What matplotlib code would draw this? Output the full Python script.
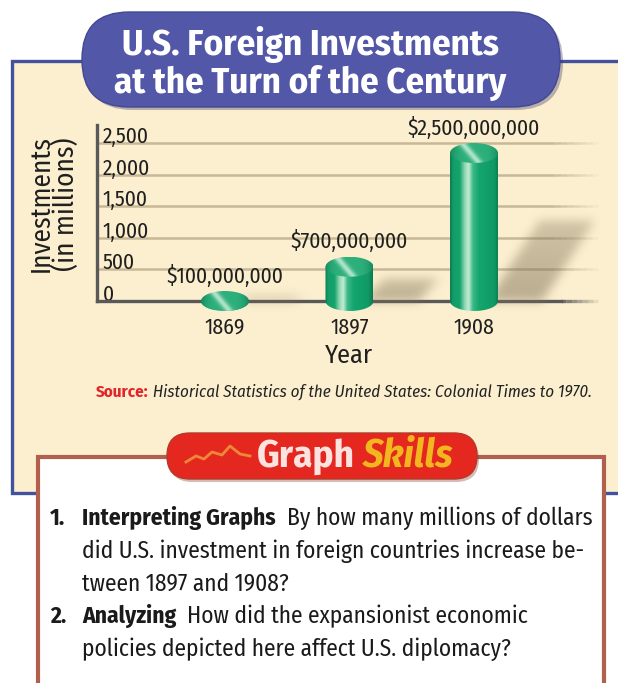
import numpy as np
import matplotlib
matplotlib.use('Agg')
import matplotlib.pyplot as plt
from matplotlib.patches import Rectangle, FancyBboxPatch, Ellipse, Polygon
from matplotlib.path import Path
from matplotlib.colors import to_rgb

# ---------------- data ----------------
years = ['1869', '1897', '1908']
investments = [100, 700, 2500]          # millions of dollars
value_labels = ['$100,000,000', '$700,000,000', '$2,500,000,000']
y_ticks = [0, 500, 1000, 1500, 2000, 2500]
y_tick_labels = ['0', '500', '1,000', '1,500', '2,000', '2,500']

title_lines = ['U.S. Foreign Investments', 'at the Turn of the Century']
y_title = 'Investments\n(in millions)'
x_title = 'Year'
source_label = 'Source:'
source_text = 'Historical Statistics of the United States: Colonial Times to 1970.'
skills_words = ['Graph', 'Skills']
questions = [
    ('1.', 'Interpreting Graphs', 'By how many millions of dollars',
     ['did U.S. investment in foreign countries increase be-',
      'tween 1897 and 1908?']),
    ('2.', 'Analyzing', 'How did the expansionist economic',
     ['policies depicted here affect U.S. diplomacy?']),
]

plt.rcParams['font.family'] = ['Fira Sans Condensed', 'DejaVu Sans']

W, H = 618, 683
fig = plt.figure(figsize=(W / 100, H / 100), dpi=100)

# background axes in pixel units (y down)
bg = fig.add_axes([0, 0, 1, 1])
bg.set_xlim(0, W)
bg.set_ylim(H, 0)
bg.axis('off')

# yellow panel with blue frame
bg.add_patch(Rectangle((12, 61), 640, 432, fc='#fbefcf', ec='#42529c', lw=2.4, zorder=1))

# title banner
bg.add_patch(FancyBboxPatch((85, 15), 478, 95, boxstyle='round,pad=0,rounding_size=47',
                            fc='#3a3560', ec='none', alpha=0.35, zorder=2))
bg.add_patch(FancyBboxPatch((82, 12), 478, 95, boxstyle='round,pad=0,rounding_size=47',
                            fc='#5257a7', ec='#434894', lw=1, zorder=3))
for i, line in enumerate(title_lines):
    bg.text(310, 55 + 38 * i, line, color='white', fontsize=26.5, fontweight='bold',
            ha='center', va='baseline', zorder=4)

# source line
t_src = bg.text(96, 397, source_label, color='#e3262b', fontsize=12.2, fontweight='bold',
                va='baseline', zorder=4)
bg.annotate(' ' + source_text, xy=(1, 0), xycoords=t_src, va='bottom', ha='left',
            fontsize=12.2, fontstyle='italic', color='#222222', zorder=4)

# questions box
bg.add_patch(Rectangle((38, 457), 566, 260, fc='white', ec='#b0604d', lw=3, zorder=3))

# Graph Skills pill
bg.add_patch(FancyBboxPatch((169, 436), 310, 46, boxstyle='round,pad=0,rounding_size=23',
                            fc='#8a3a2a', ec='none', alpha=0.35, zorder=4))
bg.add_patch(FancyBboxPatch((167, 433), 310, 46, boxstyle='round,pad=0,rounding_size=23',
                            fc='#e5281f', ec='#b23a2a', lw=1, zorder=5))
icon_x = [186, 196, 204, 212, 222, 230, 240, 250]
icon_y = [462, 456, 459, 452, 455, 446, 454, 456]
bg.plot(icon_x, icon_y, color='#f0a23a', lw=2, alpha=0.8, zorder=6)
t_g = bg.text(257, 467, skills_words[0], fontsize=28, fontweight='bold', color='#fde3e0',
              va='baseline', zorder=6)
bg.annotate(skills_words[1], xy=(1, 0), xycoords=t_g, xytext=(6, 0), textcoords='offset points',
            va='bottom', ha='left', fontsize=29, fontweight='bold', fontstyle='italic',
            color='#f2b61e', zorder=6)

# questions text
fs_q = 16.9
line = 0
for num, head, rest, more in questions:
    yb = 525 + 32.8 * line
    bg.text(50, yb, num, fontsize=fs_q, fontweight='bold', color='#1a1a1a', va='baseline', zorder=6)
    th = bg.text(82, yb, head, fontsize=fs_q, fontweight='bold', color='#1a1a1a',
                 va='baseline', zorder=6)
    bg.annotate('  ' + rest, xy=(1, 0), xycoords=th, va='bottom', ha='left',
                fontsize=fs_q, color='#1a1a1a', zorder=6)
    line += 1
    for m in more:
        bg.text(82, 525 + 32.8 * line, m, fontsize=fs_q, color='#1a1a1a', va='baseline', zorder=6)
        line += 1

# ---------------- chart axes ----------------
px_per_unit = 158 / 2500.0
px0, px1, py_top, py_bot, py_zero = 97, 600, 120, 315, 301
x_step = 124.5
x_first = 225
ax = fig.add_axes([px0 / W, 1 - py_bot / H, (px1 - px0) / W, (py_bot - py_top) / H])
ax.set_facecolor('none')
xl = ((px0 - x_first) / x_step, (px1 - x_first) / x_step)
yl = (-(py_bot - py_zero) / px_per_unit, (py_zero - py_top) / px_per_unit)
ax.set_xlim(xl)
ax.set_ylim(yl)

xpos = np.arange(len(years))
ink = '#1f1f1f'

# gridlines with a fading right end
fade_start, fade_end = 2.65, 3.0
for yv in y_ticks[1:]:
    ax.plot([xl[0], fade_start], [yv, yv], color='#c8b898', lw=1.8, zorder=1, solid_capstyle='butt')
    seg = np.linspace(fade_start, fade_end, 8)
    for k in range(len(seg) - 1):
        ax.plot(seg[k:k + 2], [yv, yv], color='#c8b898', lw=1.8, zorder=1,
                alpha=1 - (k + 1) / len(seg), solid_capstyle='butt')
# axis at zero fading right
seg = np.linspace(2.7, 3.0, 8)
for k in range(len(seg) - 1):
    ax.plot(seg[k:k + 2], [0, 0], color='#595959', lw=2.4, zorder=2,
            alpha=1 - (k + 1) / len(seg), solid_capstyle='butt')

for s in ['top', 'right']:
    ax.spines[s].set_visible(False)
ax.spines['bottom'].set_position(('data', 0))
ax.spines['bottom'].set_bounds(xl[0], 2.7)
ax.spines['bottom'].set_color('#595959')
ax.spines['bottom'].set_linewidth(2.4)
ax.spines['bottom'].set_zorder(2)
ax.spines['left'].set_bounds(0, 2780)
ax.spines['left'].set_color('#595959')
ax.spines['left'].set_linewidth(2.4)

ax.set_yticks(y_ticks, y_tick_labels)
ax.tick_params(axis='y', length=0, pad=-4, labelsize=15.5, labelcolor=ink)
for lab in ax.get_yticklabels():
    lab.set_ha('left')
    lab.set_va('baseline')
ax.set_xticks(xpos, years)
ax.tick_params(axis='x', length=0, pad=11, labelsize=15.5, labelcolor=ink)
ax.set_xlabel(x_title, fontsize=19, color=ink, labelpad=4)
ax.set_ylabel(y_title, fontsize=19.5, color=ink, linespacing=0.92)
ax.yaxis.set_label_coords(-0.034, 0.57)

# cylinders
bar_w = 48 / x_step
ry = 10 / px_per_unit
rx = bar_w / 2

# soft shadows: polygon masks blurred into one translucent image
gx = np.linspace(xl[0], xl[1], 504)
gy = np.linspace(yl[0], yl[1], 196)
GX, GY = np.meshgrid(gx, gy)
pts = np.column_stack([GX.ravel(), GY.ravel()])
mask = np.zeros(GX.shape)
for xc, val in zip(xpos, investments):
    sh_h = max(val * 0.51, 60)
    sh_dx = sh_h * 2.66e-4
    sh = [(xc + rx * 0.6, 0), (xc + rx + 0.36, 0),
          (xc + rx + 0.36 + sh_dx + 0.08, sh_h), (xc + rx + sh_dx, sh_h)]
    inside = Path(sh).contains_points(pts).reshape(GX.shape)
    fade = np.clip(1 - 0.35 * GY / sh_h, 0.4, 1)
    mask = np.maximum(mask, inside * fade)
sig = 5.0
kx = np.arange(-15, 16)
kern = np.exp(-0.5 * (kx / sig) ** 2)
kern /= kern.sum()
mask = np.apply_along_axis(lambda r: np.convolve(r, kern, mode='same'), 1, mask)
mask = np.apply_along_axis(lambda c: np.convolve(c, kern, mode='same'), 0, mask)
shadow = np.zeros(GX.shape + (4,))
shadow[..., :3] = to_rgb('#857559')
shadow[..., 3] = mask * 0.55
ax.imshow(shadow, extent=[xl[0], xl[1], yl[0], yl[1]], origin='lower', aspect='auto',
          interpolation='bilinear', zorder=2.5)

stops = [0, 0.06, 0.2, 0.3, 0.38, 0.47, 0.6, 0.9, 1.0]
cols = ['#0b7a52', '#129c68', '#15a46e', '#8fd6b2', '#c4ecd6', '#3bb886', '#14a56d', '#109a66', '#0a7a50']
crgb = np.array([to_rgb(c) for c in cols])
u = np.linspace(0, 1, 200)
body_img = np.stack([np.interp(u, stops, crgb[:, j]) for j in range(3)], axis=-1)[None, :, :]

uu, vv = np.meshgrid(np.linspace(0, 1, 120), np.linspace(0, 1, 60))
d = uu - 0.42 + 0.35 * (vv - 0.5)
hl = np.exp(-(d / 0.09) ** 2)[..., None]
edge = (np.abs(uu - 0.5) * 2)[..., None] ** 4
cap_base = np.array(to_rgb('#2eb07c'))
cap_dark = np.array(to_rgb('#138a5c'))
cap_hi = np.array(to_rgb('#c8eed9'))
cap_img = cap_base * (1 - edge) + cap_dark * edge
cap_img = cap_img * (1 - hl * 0.85) + cap_hi * hl * 0.85

for xc, val in zip(xpos, investments):
    top_c = max(val - ry, 0)
    t = np.linspace(np.pi, 2 * np.pi, 80)
    bx = np.concatenate([[xc - rx], xc + rx * np.cos(t), [xc + rx]])
    by = np.concatenate([[top_c], ry * np.sin(t), [top_c]])
    body = Polygon(np.column_stack([bx, by]), closed=True, fc='none', ec='none', zorder=4)
    ax.add_patch(body)
    im = ax.imshow(body_img, extent=[xc - rx, xc + rx, -ry, top_c + 1], aspect='auto',
                   interpolation='bilinear', zorder=4)
    im.set_clip_path(body)
    cap = Ellipse((xc, top_c), 2 * rx, 2 * ry, fc='none', ec='none', zorder=5)
    ax.add_patch(cap)
    im2 = ax.imshow(cap_img, extent=[xc - rx, xc + rx, top_c - ry, top_c + ry], aspect='auto',
                    origin='lower', interpolation='bilinear', zorder=5)
    im2.set_clip_path(cap)

for xc, val, lab in zip(xpos, investments, value_labels):
    top = max(val - ry, 0) + ry
    ax.annotate(lab, xy=(xc, top), xytext=(0, 6), textcoords='offset points',
                ha='center', va='baseline', fontsize=15.5, color=ink, zorder=6)

ax.set_xlim(xl)
ax.set_ylim(yl)

fig.savefig('out.png', dpi=100)
